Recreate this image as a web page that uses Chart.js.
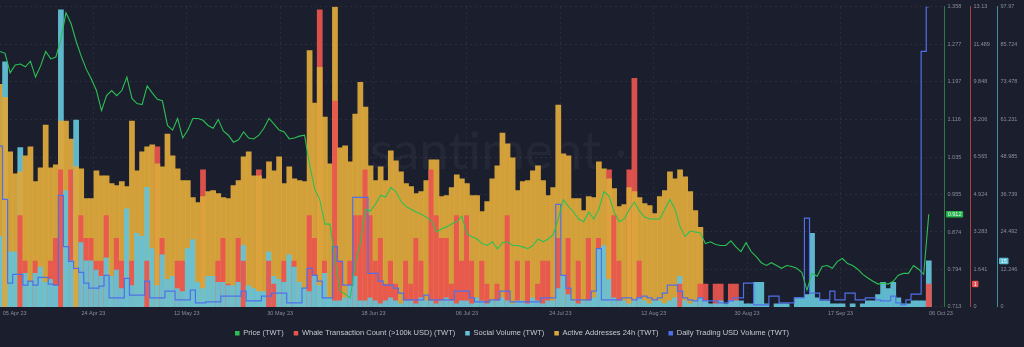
<!DOCTYPE html>
<html>
<head>
<meta charset="utf-8">
<title>TWT on-chain overview</title>
<script src="https://cdn.jsdelivr.net/npm/chart.js@4.4.0/dist/chart.umd.min.js"></script>
<style>
  html, body { margin: 0; padding: 0; background: #1b1e2d; }
  #wrap { width: 1024px; height: 347px; }
</style>
</head>
<body>
<div id="wrap"><canvas id="chart" width="1024" height="347"></canvas></div>
<script>
// Daily samples, first day = 05 Apr 2023 (index 0) through 05 Oct 2023 (index 183)
const priceTWT = [
  1.262, 1.258, 1.216, 1.233, 1.235, 1.229, 1.241, 1.207, 1.231, 1.262,
  1.246, 1.250, 1.288, 1.345, 1.322, 1.284, 1.252, 1.224, 1.203, 1.178,
  1.135, 1.167, 1.178, 1.167, 1.178, 1.207, 1.161, 1.150, 1.148, 1.188,
  1.173, 1.159, 1.156, 1.103, 1.093, 1.118, 1.076, 1.093, 1.118, 1.118,
  1.114, 1.103, 1.097, 1.116, 1.091, 1.082, 1.067, 1.072, 1.089, 1.076,
  1.074, 1.082, 1.097, 1.118, 1.106, 1.093, 1.089, 1.074, 1.076, 1.080,
  1.082, 1.019, 0.966, 0.944, 0.891, 0.891, 0.817, 0.747, 0.741, 0.732,
  0.806, 0.849, 0.923, 0.919, 0.934, 0.953, 0.949, 0.970, 0.961, 0.940,
  0.929, 0.923, 0.917, 0.912, 0.906, 0.898, 0.874, 0.881, 0.885, 0.891,
  0.896, 0.908, 0.870, 0.864, 0.859, 0.849, 0.845, 0.853, 0.838, 0.851,
  0.853, 0.845, 0.845, 0.842, 0.838, 0.845, 0.859, 0.853, 0.859, 0.868,
  0.902, 0.944, 0.929, 0.917, 0.902, 0.896, 0.917, 0.902, 0.923, 0.961,
  0.951, 0.917, 0.896, 0.902, 0.923, 0.938, 0.919, 0.906, 0.902, 0.902,
  0.902, 0.923, 0.944, 0.923, 0.885, 0.864, 0.876, 0.874, 0.872, 0.849,
  0.853, 0.847, 0.845, 0.845, 0.855, 0.842, 0.832, 0.851, 0.832, 0.821,
  0.808, 0.802, 0.808, 0.802, 0.796, 0.802, 0.800, 0.796, 0.787, 0.749,
  0.785, 0.779, 0.800, 0.802, 0.796, 0.811, 0.817, 0.806, 0.802, 0.794,
  0.783, 0.775, 0.768, 0.762, 0.764, 0.762, 0.768, 0.781, 0.785, 0.785,
  0.802, 0.794, 0.783, 0.912
];

const whaleTx = [
  0, 0, 0, 0, 4, 2, 0, 2, 0, 0,
  2, 3, 6, 0, 6, 0, 4, 3, 3, 2,
  2, 4, 0, 3, 2, 0, 2, 0, 0, 2,
  0, 7, 3, 0, 0, 2, 2, 0, 0, 0,
  6, 0, 0, 2, 3, 1, 0, 3, 2, 0,
  0, 6, 0, 2, 1, 0, 2, 0, 2, 0,
  0, 4, 3, 13, 2, 0, 9, 2, 0, 2,
  4, 4, 6, 4, 2, 3, 1, 2, 1, 0,
  2, 1, 3, 2, 0, 6, 4, 3, 3, 1,
  4, 2, 4, 2, 0, 2, 1, 0, 1, 0,
  4, 0, 2, 0, 2, 0, 1, 2, 2, 0,
  3, 0, 3, 0, 2, 0, 3, 0, 3, 0,
  6, 4, 2, 0, 6, 10, 2, 0, 0, 0,
  0, 0, 0, 0, 1, 0, 0, 0, 1, 1,
  0, 1, 1, 0, 1, 1, 0, 0, 0, 0,
  0, 0, 0, 0, 0, 0, 0, 0, 0, 0,
  0, 0, 0, 0, 0, 0, 0, 0, 0, 0,
  0, 0, 0, 0, 0, 0, 0, 0, 0, 0,
  0, 0, 0, 1
];

const socialVolume = [
  23, 80, 18, 18, 52, 11, 8, 11, 13, 8,
  9, 7, 97, 38, 15, 61, 21, 15, 15, 12,
  10, 16, 10, 12, 6, 32, 7, 24, 23, 39,
  19, 7, 17, 9, 10, 6, 5, 19, 22, 8,
  6, 10, 10, 8, 8, 7, 7, 8, 20, 7,
  6, 5, 5, 18, 10, 9, 8, 17, 13, 8,
  6, 5, 10, 7, 11, 3, 2, 2, 3, 7,
  10, 2, 2, 3, 2, 1, 2, 3, 2, 1,
  2, 2, 1, 3, 2, 2, 1, 2, 3, 2,
  1, 2, 2, 1, 3, 2, 1, 2, 2, 3,
  2, 1, 2, 2, 1, 3, 2, 1, 2, 2,
  6, 10, 4, 2, 1, 2, 2, 3, 19, 20,
  9, 3, 2, 2, 1, 2, 3, 2, 1, 2,
  2, 1, 2, 3, 10, 2, 1, 2, 3, 2,
  1, 1, 2, 1, 2, 2, 2, 1, 1, 8,
  8, 1, 0, 1, 1, 1, 0, 3, 3, 4,
  24, 3, 2, 2, 1, 1, 1, 0, 1, 0,
  1, 2, 2, 4, 8, 6, 8, 3, 1, 1,
  2, 2, 2, 15
];

const activeAddresses = [
  2240, 2110, 1560, 1340, 1360, 1520, 1610, 1260, 1400, 1830,
  1400, 1430, 1870, 1870, 1690, 1410, 1390, 1090, 1090, 1370,
  1320, 1320, 1240, 1220, 1260, 1210, 1870, 1370, 1560, 1610,
  1630, 1440, 1410, 1740, 1520, 1390, 1270, 1270, 1100, 1050,
  1110, 1160, 1170, 1140, 1100, 1090, 1220, 1270, 1510, 1560,
  1320, 1320, 1290, 1460, 1370, 1510, 1240, 1410, 1290, 1270,
  1260, 2580, 2050, 2410, 1910, 1440, 3020, 1600, 1620, 1460,
  1940, 2260, 2010, 1420, 1270, 1410, 1270, 1570, 1470, 1360,
  1240, 1210, 1140, 1160, 1270, 1480, 1480, 1110, 1120, 1200,
  1330, 1290, 1240, 1120, 1120, 960, 1060, 1290, 1420, 1750,
  1640, 1500, 1170, 1260, 1270, 1370, 1420, 1270, 1120, 1200,
  2030, 1540, 1520, 1090, 1090, 970, 1110, 1100, 1460, 1390,
  1290, 1190, 1010, 1030, 1200, 1160, 1100, 1040, 1020, 940,
  1110, 1170, 1360, 1290, 1380, 1310, 1160, 970, 800, 0,
  0, 0, 0, 0, 0, 0, 0, 0, 0, 0,
  0, 0, 0, 0, 0, 0, 0, 0, 0, 0,
  0, 0, 0, 0, 0, 0, 0, 0, 0, 0,
  0, 0, 0, 0, 0, 0, 0, 0, 0, 0,
  0, 0, 0, 0
];

// Daily trading volume, millions of USD
const tradingVolumeM = [
  64.3, 43.0, 9.5, 13.0, 13.0, 8.7, 10.3, 8.7, 11.8, 11.8,
  9.1, 8.7, 44.6, 24.1, 18.2, 15.4, 13.8, 9.5, 7.5, 7.5,
  8.3, 12.6, 3.6, 3.6, 3.6, 11.4, 4.7, 4.7, 4.7, 10.3,
  3.6, 3.6, 3.6, 6.3, 6.3, 2.8, 2.8, 2.8, 6.7, 1.6,
  1.6, 2.0, 2.0, 2.0, 4.3, 4.3, 4.3, 4.3, 6.3, 2.4,
  2.4, 2.4, 4.3, 4.3, 5.5, 5.5, 5.5, 1.6, 1.6, 1.6,
  7.5, 15.4, 12.6, 10.3, 3.6, 3.6, 24.1, 18.2, 8.7, 8.7,
  43.8, 43.8, 43.8, 13.4, 13.4, 10.3, 8.7, 8.7, 7.5, 5.5,
  2.8, 2.8, 2.8, 2.8, 4.7, 2.8, 2.8, 2.8, 2.8, 2.8,
  6.3, 6.3, 6.3, 3.6, 2.0, 2.0, 2.0, 2.8, 2.8, 6.3,
  6.3, 2.0, 2.0, 2.0, 2.0, 2.0, 2.0, 3.6, 3.6, 3.6,
  41.0, 12.6, 7.5, 2.8, 2.8, 2.8, 2.8, 6.3, 23.3, 2.8,
  2.8, 2.8, 2.8, 3.6, 3.6, 2.8, 3.6, 4.3, 3.6, 2.8,
  3.6, 5.5, 8.7, 8.7, 6.3, 3.6, 2.8, 2.4, 3.6, 2.4,
  2.4, 2.4, 1.6, 1.6, 2.4, 3.6, 3.6, 9.5, 9.5, 0.8,
  0.8, 0.8, 4.3, 4.3, 1.6, 1.6, 1.6, 3.6, 3.6, 35.5,
  5.5, 5.5, 2.8, 2.8, 6.3, 2.8, 2.8, 5.5, 5.5, 2.8,
  2.8, 3.6, 3.6, 2.8, 2.4, 2.4, 4.3, 1.6, 0.8, 2.8,
  5.1, 5.1, 102.2, 120.0
];

// Date axis: label text and its position in days since 05 Apr 2023
const xTickLabels = ['05 Apr 23', '24 Apr 23', '12 May 23', '30 May 23', '18 Jun 23', '06 Jul 23',
                     '24 Jul 23', '12 Aug 23', '30 Aug 23', '17 Sep 23', '06 Oct 23'];
const xTickDays = [2.9, 18.4, 36.8, 55.2, 73.6, 92.0, 110.4, 128.8, 147.2, 165.6, 185.4];

// Right-hand axis ticks
const priceTicks  = [0.713, 0.794, 0.874, 0.955, 1.035, 1.116, 1.197, 1.277, 1.358];
const whaleTicks  = [0, 1.641, 3.283, 4.924, 6.565, 8.206, 9.848, 11.489, 13.13];
const socialTicks = [0, 12.246, 24.492, 36.739, 48.985, 61.231, 73.478, 85.724, 97.97];

const COLORS = {
  price: '#2cc053',
  whale: '#e8554f',
  social: '#64c3d8',
  active: '#dca83c',
  volume: '#5070ea'
};
const BAR_FILL = {
  whale: 'rgba(232, 85, 79, 0.93)',
  social: 'rgba(100, 195, 216, 0.93)',
  active: 'rgba(220, 168, 60, 0.95)'
};
const TICK_COLOR = '#8a8e9b';
const GRID_COLOR = 'rgba(255, 255, 255, 0.07)';
const FONT = "'Liberation Sans', Arial, sans-serif";

Chart.defaults.font.family = FONT;

const toXY = arr => arr.map((v, i) => ({ x: i, y: v }));

// Draws the watermark, then the bar series day by day with the tallest
// bar at the back so every metric stays visible.
const layeredBars = {
  id: 'layeredBars',
  beforeDatasetsDraw(chart) {
    const { ctx, chartArea: a } = chart;
    ctx.save();
    ctx.fillStyle = 'rgba(255, 255, 255, 0.045)';
    ctx.font = "53px Lato, 'Open Sans', sans-serif";
    ctx.textAlign = 'left';
    ctx.textBaseline = 'alphabetic';
    ctx.fillText('santiment', a.left + 370, a.top + 162);
    ctx.beginPath();
    ctx.arc(a.left + 621, a.top + 147, 3.3, 0, Math.PI * 2);
    ctx.fill();
    ctx.restore();

    const metas = chart.data.datasets
      .map((d, i) => (d.type === 'bar' && chart.isDatasetVisible(i)) ? chart.getDatasetMeta(i) : null)
      .filter(Boolean);
    ctx.save();
    ctx.beginPath();
    ctx.rect(a.left, a.top, a.right - a.left, a.bottom - a.top);
    ctx.clip();
    const n = priceTWT.length;
    for (let i = 0; i < n; i++) {
      const els = metas.map(m => m.data[i]).filter(el => el && Math.abs(el.base - el.y) > 0.01);
      els.sort((p, q) => p.y - q.y);
      els.forEach(el => el.draw(ctx));
    }
    ctx.restore();
  },
  beforeDatasetDraw(chart, args) {
    if (chart.data.datasets[args.index].type === 'bar') return false;
  }
};

// Latest-value badges on the visible right axes
const lastValueTags = {
  id: 'lastValueTags',
  afterDatasetsDraw(chart) {
    const ctx = chart.ctx;
    const tags = [
      { axis: 'yPrice', value: priceTWT[priceTWT.length - 1], text: priceTWT[priceTWT.length - 1].toFixed(3), bg: '#27b24b', fg: '#eaf7ec' },
      { axis: 'yWhale', value: whaleTx[whaleTx.length - 1], text: String(whaleTx[whaleTx.length - 1]), bg: '#e4514f', fg: '#ffffff' },
      { axis: 'ySocial', value: socialVolume[socialVolume.length - 1], text: String(socialVolume[socialVolume.length - 1]), bg: '#5fbfd6', fg: '#eef8fb' }
    ];
    ctx.save();
    ctx.font = '5.5px ' + FONT;
    ctx.textAlign = 'left';
    ctx.textBaseline = 'middle';
    tags.forEach(t => {
      const s = chart.scales[t.axis];
      const y = s.getPixelForValue(t.value);
      const w = ctx.measureText(t.text).width + 3.4;
      const x = s.left + 2;
      ctx.fillStyle = t.bg;
      ctx.beginPath();
      ctx.roundRect(x, y - 3.2, w, 6.4, 1);
      ctx.fill();
      ctx.fillStyle = t.fg;
      ctx.fillText(t.text, x + 1.7, y + 0.3);
    });
    ctx.restore();
  }
};

const tickFont = { size: 5.5, family: FONT };

const rightAxis = (min, max, ticks, color, width, weight) => ({
  position: 'right',
  weight,
  min, max,
  afterBuildTicks: s => { s.ticks = ticks.map(v => ({ value: v })); },
  afterFit: s => { s.width = width; },
  ticks: { padding: 3.5, color: TICK_COLOR, font: tickFont, callback: v => String(v) },
  grid: { display: false, drawTicks: false },
  border: { display: true, color, width: 1 }
});

const barStyle = { barPercentage: 1, categoryPercentage: 1, grouped: false, borderWidth: 0 };

new Chart(document.getElementById('chart'), {
  type: 'bar',
  data: {
    datasets: [
      { type: 'line', label: 'Price (TWT)', data: toXY(priceTWT), yAxisID: 'yPrice',
        borderColor: COLORS.price, backgroundColor: COLORS.price, borderWidth: 1.1,
        pointRadius: 0, tension: 0, order: 0 },
      { type: 'bar', label: 'Whale Transaction Count (>100k USD) (TWT)', data: toXY(whaleTx), yAxisID: 'yWhale',
        backgroundColor: BAR_FILL.whale, order: 3, ...barStyle },
      { type: 'bar', label: 'Social Volume (TWT)', data: toXY(socialVolume), yAxisID: 'ySocial',
        backgroundColor: BAR_FILL.social, order: 4, ...barStyle },
      { type: 'bar', label: 'Active Addresses 24h (TWT)', data: toXY(activeAddresses), yAxisID: 'yActive',
        backgroundColor: BAR_FILL.active, order: 2, ...barStyle },
      { type: 'line', label: 'Daily Trading USD Volume (TWT)', data: toXY(tradingVolumeM), yAxisID: 'yVolume',
        borderColor: COLORS.volume, backgroundColor: COLORS.volume, borderWidth: 1.2,
        stepped: 'middle', pointRadius: 0, order: 1 }
    ]
  },
  options: {
    responsive: false,
    animation: false,
    devicePixelRatio: 1,
    events: [],
    layout: { padding: { top: 5, left: 0, right: 0, bottom: 0 } },
    plugins: {
      tooltip: { enabled: false },
      legend: {
        position: 'bottom',
        labels: {
          color: '#c6c8d0',
          font: { size: 7.5, family: FONT },
          boxWidth: 4.5,
          boxHeight: 4.5,
          padding: 10,
          generateLabels(chart) {
            const colorList = [COLORS.price, COLORS.whale, COLORS.social, COLORS.active, COLORS.volume];
            return chart.data.datasets.map((d, i) => ({
              text: d.label, fillStyle: colorList[i], strokeStyle: colorList[i],
              lineWidth: 0, hidden: false, datasetIndex: i, fontColor: '#c6c8d0'
            }));
          }
        }
      }
    },
    scales: {
      x: {
        type: 'linear',
        min: 0,
        max: 186,
        offset: false,
        afterBuildTicks: s => { s.ticks = xTickDays.map(v => ({ value: v })); },
        afterFit: s => { s.paddingLeft = 0; s.paddingRight = 0; },
        ticks: { autoSkip: false, maxRotation: 0, padding: 3, color: TICK_COLOR, font: tickFont,
                 callback: (v, i) => xTickLabels[i] },
        grid: { offset: false, drawTicks: false,
                color: c => (c.index === 0 || c.index === xTickDays.length - 1) ? 'transparent' : GRID_COLOR },
        border: { display: false, dash: [2, 3] }
      },
      yPrice: {
        ...rightAxis(0.713, 1.358, priceTicks, '#2f7645', 26, 0),
        grid: { display: true, drawTicks: false, color: GRID_COLOR },
        border: { display: true, color: '#2f7645', width: 1, dash: [2, 3] }
      },
      yWhale: rightAxis(0, 13.13, whaleTicks, '#a8423f', 27, 1),
      ySocial: rightAxis(0, 97.97, socialTicks, '#3f8ea2', 27, 2),
      yActive: { display: false, min: 0, max: 3020 },
      yVolume: { display: false, min: 0, max: 120 }
    }
  },
  plugins: [layeredBars, lastValueTags]
});
</script>
</body>
</html>
